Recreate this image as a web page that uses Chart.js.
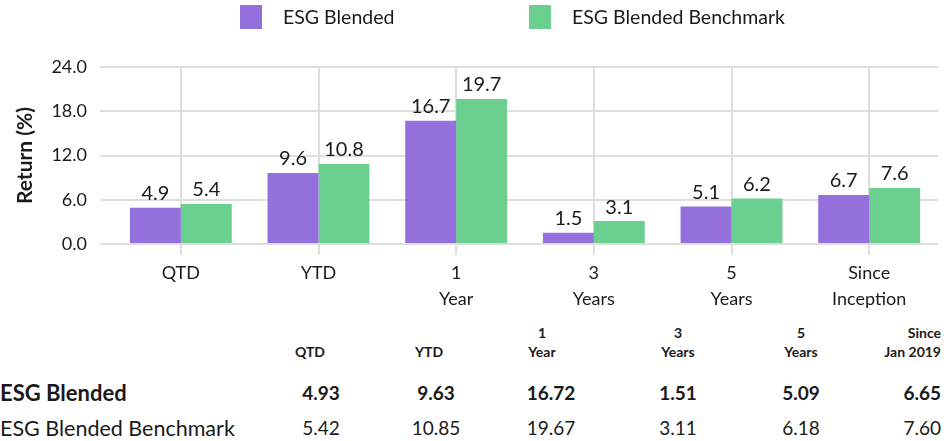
<!DOCTYPE html>
<html>
<head>
<meta charset="utf-8">
<script src="https://cdn.jsdelivr.net/npm/chart.js@4.4.1/dist/chart.umd.min.js"></script>
<style>
    body { margin: 0; background: #fff; font-family: Lato, 'Open Sans', sans-serif; color: #1a1a1a; }
    #wrap { position: relative; width: 951px; height: 441px; overflow: hidden; }
    #c { position: absolute; left: 0; top: 0; }
    .lg-box { position: absolute; top: 5px; width: 22px; height: 24px; }
    .lg-text { position: absolute; top: 6px; font-size: 19.5px; line-height: 22px; white-space: nowrap; }
    table { position: absolute; left: 0; top: 322px; width: 951px; border-collapse: collapse; table-layout: fixed; }
    td, th { padding: 0; white-space: nowrap; }
    th { font-size: 14px; font-weight: 700; line-height: 19px; height: 39px; vertical-align: bottom; padding-bottom: 14px; text-align: center; }
    td { font-size: 19px; height: 35px; text-align: center; }
    td.name { text-align: left; font-size: 21.5px; }
    tr.main td { font-weight: 700; }
    tr.main td.name { font-size: 22px; }
    .last { text-align: right !important; padding-right: 10px; }
</style>
</head>
<body>
<div id="wrap">
    <canvas id="c" width="951" height="315"></canvas>
    <div id="legend"></div>
    <table id="tbl">
        <colgroup>
            <col style="width:260px"><col style="width:122px"><col style="width:108px"><col style="width:122px">
            <col style="width:132px"><col style="width:114px"><col style="width:93px">
        </colgroup>
    </table>
</div>
<script>
const categories = [['QTD'], ['YTD'], ['1', 'Year'], ['3', 'Years'], ['5', 'Years'], ['Since', 'Inception']];
const tableHeaders = [['QTD'], ['YTD'], ['1', 'Year'], ['3', 'Years'], ['5', 'Years'], ['Since', 'Jan 2019']];
const seriesNames = ['ESG Blended', 'ESG Blended Benchmark'];
const blended = [4.93, 9.63, 16.72, 1.51, 5.09, 6.65];
const benchmark = [5.42, 10.85, 19.67, 3.11, 6.18, 7.60];
const yTicks = [0, 6, 12, 18, 24];

const colors = ['#9370db', '#6acf8f'];
const textColor = '#1a1a1a';
const gridColor = '#dedede';
const fontFamily = 'Lato, "Open Sans", sans-serif';

// legend (html, same as the original layout)
const legendPos = [[240, 283], [529, 572]];
const legend = document.getElementById('legend');
seriesNames.forEach((name, i) => {
    legend.innerHTML += '<div class="lg-box" style="left:' + legendPos[i][0] + 'px;background:' + colors[i] + '"></div>'
        + '<div class="lg-text" style="left:' + legendPos[i][1] + 'px">' + name + '</div>';
});

// table under the chart
const headerShift = [22, 14, 18, 0, 0, 0];
let html = '<tr><th></th>';
tableHeaders.forEach((h, i) => {
    const cls = i === tableHeaders.length - 1 ? ' class="last"' : '';
    html += '<th' + cls + ' style="padding-right:' + (i === 5 ? 10 : headerShift[i]) + 'px">' + h.join('<br>') + '</th>';
});
html += '</tr>';
[blended, benchmark].forEach((vals, r) => {
    html += '<tr class="' + (r === 0 ? 'main' : '') + '"><td class="name">' + seriesNames[r] + '</td>';
    vals.forEach((v, i) => {
        const cls = i === vals.length - 1 ? ' class="last"' : '';
        html += '<td' + cls + '>' + v.toFixed(2) + '</td>';
    });
    html += '</tr>';
});
document.getElementById('tbl').insertAdjacentHTML('beforeend', html);

const barLabels = {
    id: 'barLabels',
    afterDatasetsDraw(chart) {
        const ctx = chart.ctx;
        ctx.save();
        ctx.font = '20px ' + fontFamily;
        ctx.fillStyle = textColor;
        ctx.textAlign = 'center';
        ctx.textBaseline = 'bottom';
        chart.data.datasets.forEach((ds, i) => {
            chart.getDatasetMeta(i).data.forEach((bar, j) => {
                ctx.fillText(ds.data[j].toFixed(1), bar.x, bar.y - 4);
            });
        });
        ctx.restore();
    }
};

new Chart(document.getElementById('c').getContext('2d'), {
    type: 'bar',
    data: {
        labels: categories,
        datasets: [
            { label: seriesNames[0], data: blended, backgroundColor: colors[0] },
            { label: seriesNames[1], data: benchmark, backgroundColor: colors[1] }
        ]
    },
    options: {
        responsive: false,
        animation: false,
        categoryPercentage: 0.74,
        barPercentage: 1,
        layout: { padding: { top: 67, right: 13, bottom: 0, left: 0 } },
        plugins: {
            legend: { display: false },
            tooltip: { enabled: false }
        },
        scales: {
            x: {
                grid: { offset: false, color: gridColor, lineWidth: 2, tickLength: 11 },
                border: { display: false },
                ticks: { color: textColor, font: { family: fontFamily, size: 18, lineHeight: 1.4 }, padding: 6 },
                afterFit(scale) { scale.height = 71; }
            },
            y: {
                min: 0,
                max: 24,
                afterBuildTicks(scale) { scale.ticks = yTicks.map(v => ({ value: v })); },
                grid: { color: gridColor, lineWidth: 2, tickLength: 12 },
                border: { display: false },
                ticks: {
                    color: textColor,
                    font: { family: fontFamily, size: 18 },
                    padding: 13,
                    callback: v => v.toFixed(1)
                },
                title: {
                    display: true,
                    text: 'Return (%)',
                    color: textColor,
                    font: { family: fontFamily, size: 21, weight: 'bold' },
                    padding: { top: 13, bottom: 0 }
                },
                afterFit(scale) { scale.width = 112; }
            }
        }
    },
    plugins: [barLabels]
});
</script>
</body>
</html>
